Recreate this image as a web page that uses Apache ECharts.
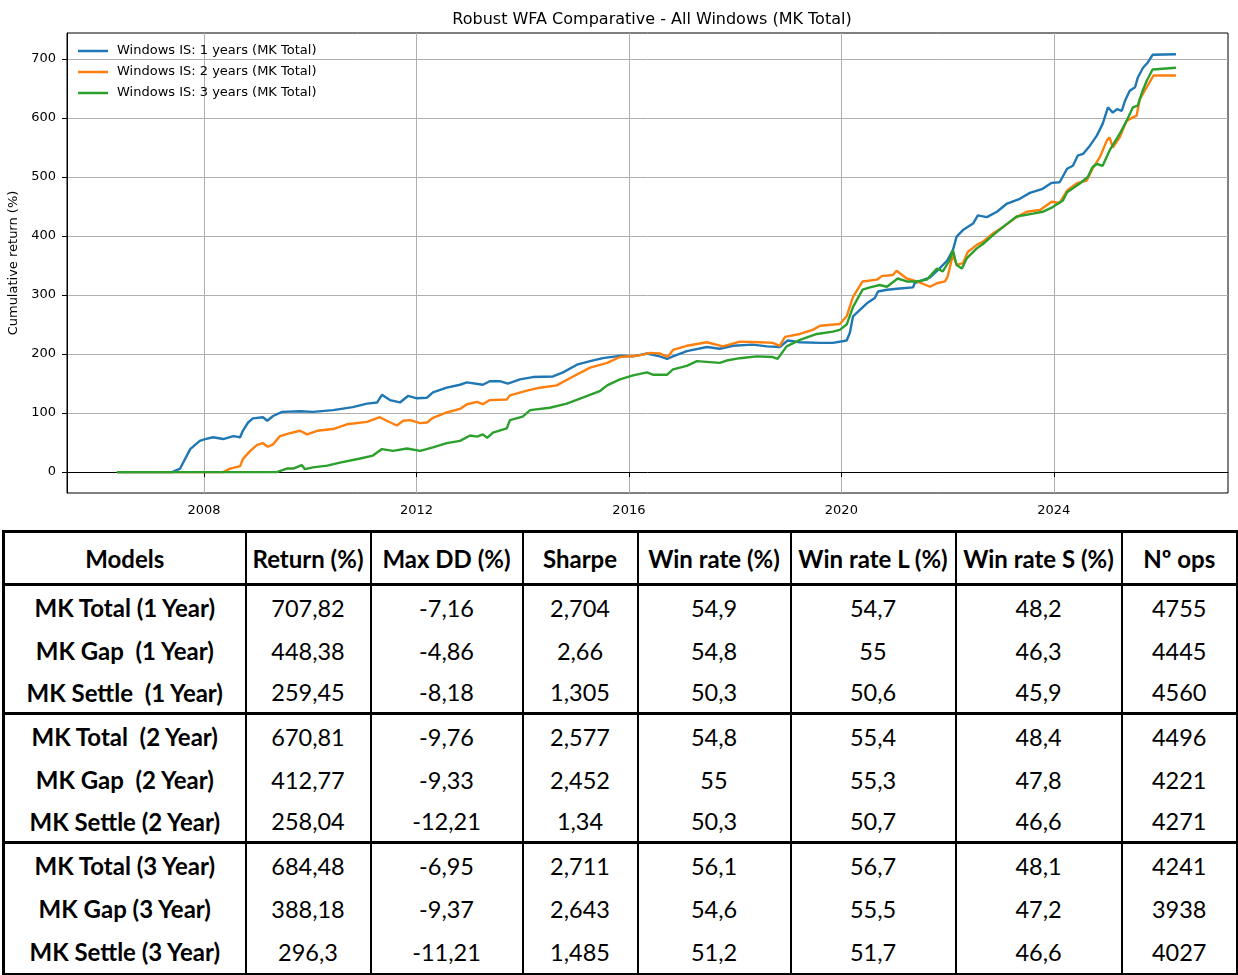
<!DOCTYPE html>
<html>
<head>
<meta charset="utf-8">
<script src="https://cdn.jsdelivr.net/npm/echarts@6/dist/echarts.min.js"></script>
<style>
  body { margin: 0; background: #fff; }
  #chart { width: 1238px; height: 525px; }
  #stats {
    position: absolute; left: 2px; top: 530px; width: 1234px;
    border-collapse: collapse; table-layout: fixed;
    font-family: Lato, "Open Sans", sans-serif; font-size: 23.5px; color: #000;
    border: 3px solid #000;
  }
  #stats td, #stats th {
    text-align: center; padding: 0; white-space: pre;
    border-left: 2px solid #000; border-right: 2px solid #000;
  }
  #stats th { height: 50px; font-weight: bold; font-size: 24px; border-bottom: 3px solid #000; }
  #stats td { height: 43px; }
  #stats td.model { font-weight: bold; font-size: 24px; }
  #stats tr.groupEnd td { height: 40px; border-bottom: 3px solid #000; }
</style>
</head>
<body>
<div id="chart"></div>
<table id="stats"></table>
<script>
// cumulative return (%) per window length, [year, value]
const is1Years = [
  [2006.36,0],[2007.40,0],[2007.55,6],[2007.74,39],[2007.92,53],[2008.02,56],[2008.17,59],[2008.36,56],
  [2008.55,61],[2008.68,59],[2008.73,70],[2008.83,84],[2008.92,91],[2009.11,93],[2009.19,87],[2009.30,95],
  [2009.47,102],[2009.81,103],[2010.05,102],[2010.43,105],[2010.80,110],[2011.07,116],[2011.26,118],[2011.35,131],
  [2011.50,122],[2011.69,118],[2011.84,129],[2012.01,125],[2012.20,126],[2012.31,135],[2012.57,143],[2012.82,148],
  [2012.95,152],[2013.25,148],[2013.38,154],[2013.57,154],[2013.72,150],[2013.95,157],[2014.19,161],[2014.57,162],
  [2014.76,169],[2015.02,182],[2015.27,188],[2015.51,193],[2015.83,197],[2016.08,196],[2016.34,201],[2016.58,196],
  [2016.72,192],[2016.83,196],[2017.09,205],[2017.47,212],[2017.71,209],[2017.96,214],[2018.33,216],[2018.60,213],
  [2018.84,212],[2018.99,223],[2019.22,220],[2019.60,219],[2019.84,219],[2020.10,223],[2020.16,236],[2020.22,264],
  [2020.35,275],[2020.48,286],[2020.63,295],[2020.69,306],[2020.86,309],[2021.10,311],[2021.35,313],[2021.38,320],
  [2021.67,330],[2021.85,345],[2021.99,358],[2022.10,376],[2022.17,399],[2022.29,410],[2022.48,421],[2022.57,435],
  [2022.74,432],[2022.93,441],[2023.12,455],[2023.36,463],[2023.55,473],[2023.79,480],[2023.96,490],[2024.11,491],
  [2024.25,514],[2024.36,519],[2024.45,536],[2024.55,539],[2024.68,553],[2024.81,570],[2024.92,590],[2025.02,618],
  [2025.11,609],[2025.19,615],[2025.28,612],[2025.34,629],[2025.43,646],[2025.53,652],[2025.58,668],[2025.68,685],
  [2025.77,694],[2025.86,707],[2026.30,708]
];
const is2Years = [
  [2006.36,0],[2008.36,0],[2008.49,6],[2008.68,10],[2008.73,22],[2008.87,36],[2009.00,46],[2009.11,49],
  [2009.20,43],[2009.30,47],[2009.43,61],[2009.62,66],[2009.81,70],[2009.94,64],[2010.13,70],[2010.43,73],
  [2010.69,81],[2011.07,85],[2011.31,93],[2011.44,87],[2011.63,79],[2011.75,87],[2011.88,88],[2012.07,83],
  [2012.20,84],[2012.31,92],[2012.57,101],[2012.82,107],[2012.95,115],[2013.14,119],[2013.25,115],[2013.38,122],
  [2013.70,123],[2013.76,130],[2014.08,138],[2014.32,143],[2014.64,147],[2014.95,162],[2015.27,177],[2015.59,185],
  [2015.83,195],[2016.15,197],[2016.40,202],[2016.58,201],[2016.73,195],[2016.83,207],[2017.09,214],[2017.47,220],
  [2017.77,213],[2018.09,221],[2018.47,220],[2018.71,219],[2018.84,214],[2018.94,229],[2019.22,234],[2019.46,241],
  [2019.60,248],[2019.97,251],[2020.10,264],[2020.22,297],[2020.40,323],[2020.67,326],[2020.76,332],[2020.97,334],
  [2021.04,341],[2021.23,328],[2021.42,323],[2021.67,314],[2021.80,320],[2021.95,323],[2022.00,331],[2022.10,368],
  [2022.17,351],[2022.29,354],[2022.38,373],[2022.55,385],[2022.66,390],[2022.85,404],[2023.04,415],[2023.30,432],
  [2023.49,441],[2023.74,444],[2023.96,458],[2024.11,456],[2024.25,477],[2024.43,489],[2024.62,494],[2024.73,514],
  [2024.87,534],[2025.00,562],[2025.05,567],[2025.11,550],[2025.24,567],[2025.37,595],[2025.49,601],[2025.56,604],
  [2025.62,632],[2025.75,652],[2025.85,668],[2025.88,672],[2026.30,672]
];
const is3Years = [
  [2006.36,0],[2009.37,0],[2009.56,6],[2009.68,6],[2009.84,12],[2009.90,5],[2010.05,8],[2010.32,11],
  [2010.56,16],[2010.94,23],[2011.18,28],[2011.35,39],[2011.56,36],[2011.82,40],[2012.07,36],[2012.31,42],
  [2012.57,49],[2012.82,53],[2013.01,62],[2013.14,60],[2013.25,64],[2013.33,58],[2013.44,67],[2013.70,74],
  [2013.76,88],[2014.00,94],[2014.14,105],[2014.51,109],[2014.83,116],[2015.13,126],[2015.45,137],[2015.59,147],
  [2015.83,157],[2016.08,164],[2016.34,169],[2016.45,165],[2016.72,165],[2016.83,174],[2017.09,180],[2017.28,188],
  [2017.71,185],[2017.84,189],[2018.09,193],[2018.41,196],[2018.71,195],[2018.80,192],[2018.97,213],[2019.22,224],
  [2019.54,234],[2019.84,238],[2019.97,241],[2020.10,250],[2020.22,280],[2020.40,309],[2020.54,313],[2020.72,317],
  [2020.86,314],[2021.06,328],[2021.23,323],[2021.42,323],[2021.61,326],[2021.80,345],[2021.91,340],[2022.04,359],
  [2022.10,376],[2022.17,351],[2022.27,345],[2022.36,362],[2022.55,379],[2022.66,386],[2022.85,401],[2023.04,415],
  [2023.30,433],[2023.61,438],[2023.79,441],[2023.98,449],[2024.17,460],[2024.25,474],[2024.49,489],[2024.64,500],
  [2024.73,517],[2024.81,522],[2024.92,519],[2025.05,545],[2025.24,573],[2025.37,595],[2025.49,618],[2025.58,621],
  [2025.66,643],[2025.75,663],[2025.86,682],[2026.30,685]
];
const seriesNames = [
  'Windows IS: 1 years (MK Total)',
  'Windows IS: 2 years (MK Total)',
  'Windows IS: 3 years (MK Total)'
];
const seriesColors = ['#1f77b4', '#ff7f0e', '#2ca02c'];
const yearTicks = [2008, 2012, 2016, 2020, 2024];
const returnTicks = [0, 100, 200, 300, 400, 500, 600, 700];

// summary table
const tableHeaders = ['Models', 'Return (%)', 'Max DD (%)', 'Sharpe', 'Win rate (%)', 'Win rate L (%)', 'Win rate S (%)', 'Nº ops'];
const modelNames = [
  'MK Total (1 Year)', 'MK Gap  (1 Year)', 'MK Settle  (1 Year)',
  'MK Total  (2 Year)', 'MK Gap  (2 Year)', 'MK Settle (2 Year)',
  'MK Total (3 Year)', 'MK Gap (3 Year)', 'MK Settle (3 Year)'
];
const returns  = ['707,82', '448,38', '259,45', '670,81', '412,77', '258,04', '684,48', '388,18', '296,3'];
const maxDD    = ['-7,16', '-4,86', '-8,18', '-9,76', '-9,33', '-12,21', '-6,95', '-9,37', '-11,21'];
const sharpe   = ['2,704', '2,66', '1,305', '2,577', '2,452', '1,34', '2,711', '2,643', '1,485'];
const winRate  = ['54,9', '54,8', '50,3', '54,8', '55', '50,3', '56,1', '54,6', '51,2'];
const winRateL = ['54,7', '55', '50,6', '55,4', '55,3', '50,7', '56,7', '55,5', '51,7'];
const winRateS = ['48,2', '46,3', '45,9', '48,4', '47,8', '46,6', '48,1', '47,2', '46,6'];
const numOps   = ['4755', '4445', '4560', '4496', '4221', '4271', '4241', '3938', '4027'];

const colWidths = [242, 125, 152, 115, 153, 165, 166, 116];

function buildTable() {
  const t = document.getElementById('stats');
  let html = '<colgroup>' + colWidths.map(w => '<col style="width:' + w + 'px">').join('') + '</colgroup>';
  html += '<tr>' + tableHeaders.map(h => '<th>' + h + '</th>').join('') + '</tr>';
  modelNames.forEach((m, i) => {
    const cls = (i === 2 || i === 5) ? ' class="groupEnd"' : '';
    const cells = [returns[i], maxDD[i], sharpe[i], winRate[i], winRateL[i], winRateS[i], numOps[i]];
    html += '<tr' + cls + '><td class="model">' + m + '</td>' + cells.map(c => '<td>' + c + '</td>').join('') + '</tr>';
  });
  t.innerHTML = html;
}
buildTable();

const myChart = echarts.init(document.getElementById('chart'));
const axisFont = { fontFamily: 'DejaVu Sans', fontSize: 13, color: '#000' };
let option = {
  animation: false,
  backgroundColor: '#fff',
  title: {
    text: 'Robust WFA Comparative - All Windows (MK Total)',
    left: 647, top: 7, textAlign: 'center',
    textStyle: { fontFamily: 'DejaVu Sans', fontSize: 16, fontWeight: 'normal', color: '#000' }
  },
  legend: {
    orient: 'vertical', left: 78, top: 44, padding: 0,
    icon: 'rect', itemWidth: 30, itemHeight: 2.5, itemGap: 7,
    data: seriesNames,
    textStyle: { fontFamily: 'DejaVu Sans', fontSize: 13, lineHeight: 14, color: '#000', padding: [0, 0, 0, 4] }
  },
  grid: {
    left: 67, right: 10, top: 33, bottom: 32,
    outerBoundsMode: 'none', containLabel: false,
    show: true, borderColor: '#000', borderWidth: 1
  },
  xAxis: {
    type: 'value', min: 2005.42, max: 2027.28,
    axisLine: { show: true, lineStyle: { color: '#000' } },
    axisTick: { show: true, length: 5, customValues: yearTicks, lineStyle: { color: '#000' } },
    axisLabel: Object.assign({ margin: 11, customValues: yearTicks,
      formatter: v => String(Math.round(v)) }, axisFont),
    splitLine: { show: true, lineStyle: { color: '#b0b0b0', width: 1 } }
  },
  yAxis: {
    type: 'value', min: -35.4, max: 743.9,
    name: 'Cumulative return (%)', nameLocation: 'middle', nameGap: 45,
    nameTextStyle: { fontFamily: 'DejaVu Sans', fontSize: 13, color: '#000' },
    axisLine: { show: true, lineStyle: { color: '#000' } },
    axisTick: { show: true, length: 5, customValues: returnTicks, lineStyle: { color: '#000' } },
    axisLabel: Object.assign({ margin: 11, customValues: returnTicks }, axisFont),
    splitLine: { show: true, lineStyle: { color: '#b0b0b0', width: 1 } }
  },
  series: [is1Years, is2Years, is3Years].map((d, i) => ({
    name: seriesNames[i],
    type: 'line',
    data: d,
    symbol: 'none',
    color: seriesColors[i],
    lineStyle: { width: 2.4, color: seriesColors[i] }
  }))
};
myChart.setOption(option);
</script>
</body>
</html>
